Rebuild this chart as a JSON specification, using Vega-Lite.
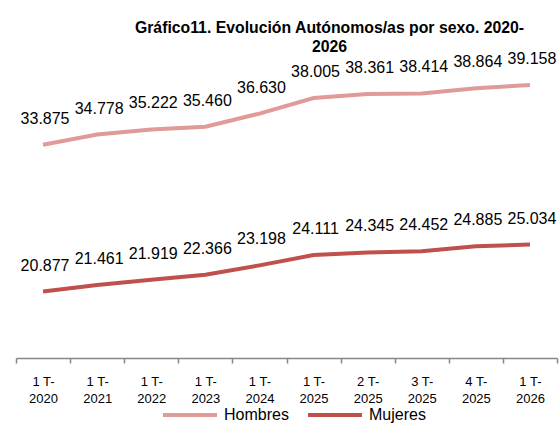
{
  "$schema": "https://vega.github.io/schema/vega-lite/v6.json",
  "width": 541,
  "height": 339,
  "autosize": {"type": "none"},
  "padding": {"left": 16, "top": 19, "right": 2, "bottom": 66},
  "background": "white",
  "config": {
    "view": {"stroke": null},
    "font": "Liberation Sans",
    "locale": {"number": {"decimal": ",", "thousands": ".", "grouping": [3], "currency": ["", " €"]}}
  },
  "title": {
    "text": ["Gráfico11. Evolución Autónomos/as por sexo. 2020-", "2026"],
    "anchor": "middle",
    "frame": "group",
    "dx": 43,
    "offset": -37,
    "font": "Liberation Sans",
    "fontSize": 15.8,
    "fontWeight": "bold",
    "color": "#000000",
    "lineHeight": 19
  },
  "data": {
    "values": [
      {"periodo": "1 T-2020", "sexo": "Hombres", "valor": 33875},
      {"periodo": "1 T-2021", "sexo": "Hombres", "valor": 34778},
      {"periodo": "1 T-2022", "sexo": "Hombres", "valor": 35222},
      {"periodo": "1 T-2023", "sexo": "Hombres", "valor": 35460},
      {"periodo": "1 T-2024", "sexo": "Hombres", "valor": 36630},
      {"periodo": "1 T-2025", "sexo": "Hombres", "valor": 38005},
      {"periodo": "2 T-2025", "sexo": "Hombres", "valor": 38361},
      {"periodo": "3 T-2025", "sexo": "Hombres", "valor": 38414},
      {"periodo": "4 T-2025", "sexo": "Hombres", "valor": 38864},
      {"periodo": "1 T-2026", "sexo": "Hombres", "valor": 39158},
      {"periodo": "1 T-2020", "sexo": "Mujeres", "valor": 20877},
      {"periodo": "1 T-2021", "sexo": "Mujeres", "valor": 21461},
      {"periodo": "1 T-2022", "sexo": "Mujeres", "valor": 21919},
      {"periodo": "1 T-2023", "sexo": "Mujeres", "valor": 22366},
      {"periodo": "1 T-2024", "sexo": "Mujeres", "valor": 23198},
      {"periodo": "1 T-2025", "sexo": "Mujeres", "valor": 24111},
      {"periodo": "2 T-2025", "sexo": "Mujeres", "valor": 24345},
      {"periodo": "3 T-2025", "sexo": "Mujeres", "valor": 24452},
      {"periodo": "4 T-2025", "sexo": "Mujeres", "valor": 24885},
      {"periodo": "1 T-2026", "sexo": "Mujeres", "valor": 25034}
    ]
  },
  "encoding": {
    "x": {
      "field": "periodo",
      "type": "ordinal",
      "sort": null,
      "scale": {"type": "band", "paddingInner": 0, "paddingOuter": 0},
      "axis": {
        "title": null,
        "labelAngle": 0,
        "tickBand": "extent",
        "domainColor": "#868686",
        "domainWidth": 1.5,
        "tickColor": "#868686",
        "tickWidth": 1.5,
        "tickSize": 5,
        "labelFont": "Liberation Sans",
        "labelFontSize": 13,
        "labelColor": "#000000",
        "labelLineHeight": 17,
        "labelPadding": 12,
        "labelExpr": "datum.label ? [split(datum.label, '-')[0] + '-', split(datum.label, '-')[1]] : ''"
      }
    },
    "y": {
      "field": "valor",
      "type": "quantitative",
      "scale": {"domain": [15000, 45000], "nice": false, "zero": false},
      "axis": null
    },
    "color": {
      "field": "sexo",
      "type": "nominal",
      "scale": {"domain": ["Hombres", "Mujeres"], "range": ["#E09A98", "#C0504D"]},
      "legend": {
        "title": null,
        "orient": "none",
        "direction": "horizontal",
        "legendX": 145,
        "legendY": 367,
        "padding": 0,
        "symbolType": "stroke",
        "symbolSize": 2916,
        "symbolStrokeWidth": 4,
        "labelFont": "Liberation Sans",
        "labelFontSize": 16,
        "labelColor": "#000000",
        "labelOffset": 5,
        "columnPadding": 11
      }
    }
  },
  "layer": [
    {"mark": {"type": "line", "strokeWidth": 4}},
    {
      "mark": {"type": "text", "dy": -21, "dx": 2, "baseline": "alphabetic", "fontSize": 16, "font": "Liberation Sans", "color": "#000000"},
      "encoding": {
        "text": {"field": "valor", "type": "quantitative", "format": ",.0f", "formatType": "number"},
        "color": {"value": "#000000"}
      }
    }
  ]
}
